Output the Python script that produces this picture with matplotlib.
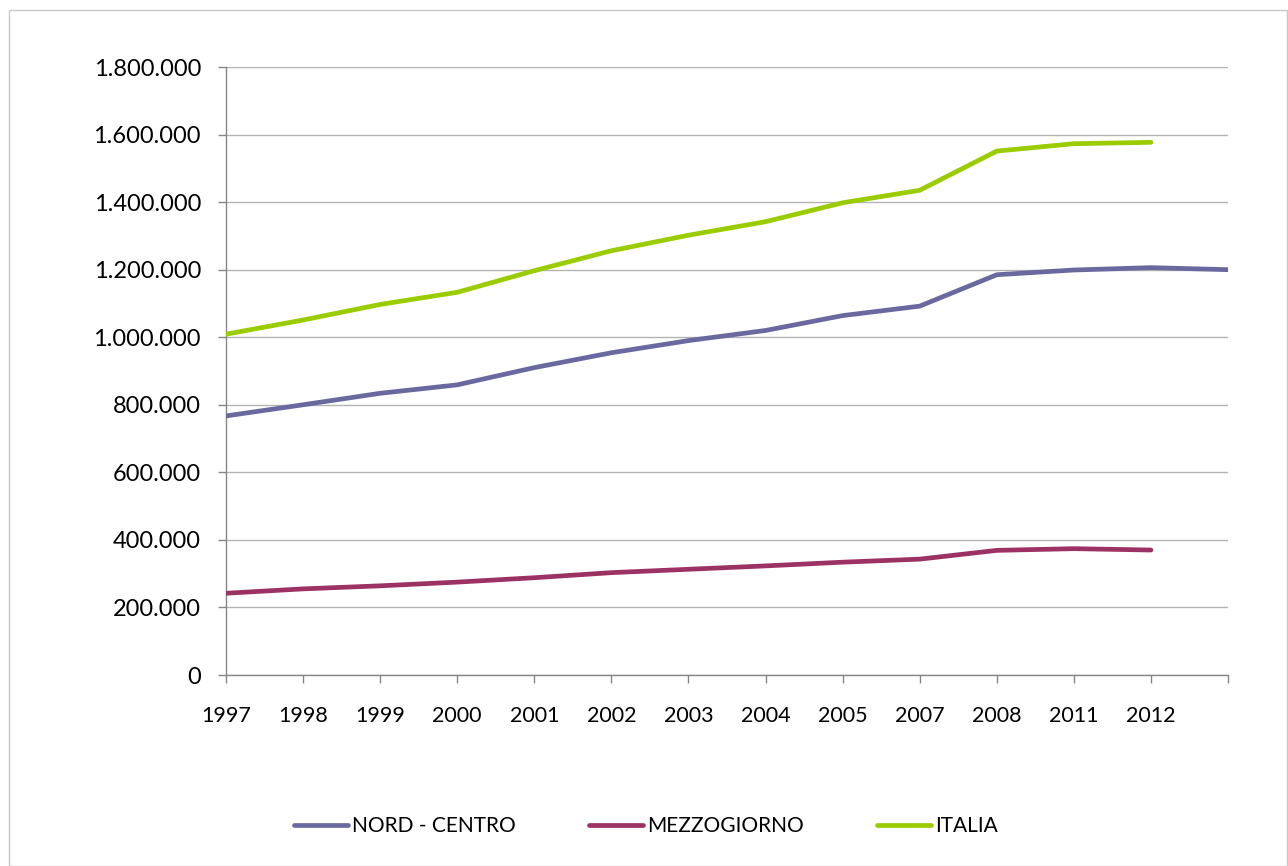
import matplotlib
matplotlib.use("Agg")
import matplotlib.pyplot as plt
from matplotlib.patches import Rectangle
from matplotlib.ticker import FuncFormatter, FixedLocator

years = ["1997", "1998", "1999", "2000", "2001", "2002", "2003", "2004",
         "2005", "2007", "2008", "2011", "2012", ""]
nord_centro = [767000, 800000, 834000, 859000, 910000, 954000, 990000, 1020000,
               1064000, 1092000, 1185000, 1199000, 1206000, 1200000]
mezzogiorno = [242000, 255000, 264000, 275000, 288000, 303000, 313000, 323000,
               334000, 343000, 369000, 374000, 370000]
italia = [1009000, 1051000, 1097000, 1133000, 1197000, 1256000, 1302000, 1342000,
          1398000, 1435000, 1551000, 1573000, 1577000]

names = ["NORD - CENTRO", "MEZZOGIORNO", "ITALIA"]
colors = ["#6A699F", "#9C3263", "#9ACC00"]

plt.rcParams['font.family'] = ['Lato', 'DejaVu Sans']
W, H = 1288, 866
fig = plt.figure(figsize=(W / 100, H / 100), dpi=100)
ax = fig.add_axes([226 / W, 1 - 675 / H, (1228 - 226) / W, (675 - 67) / H])

for vals, name, col in zip([nord_centro, mezzogiorno, italia], names, colors):
    ax.plot(range(len(vals)), vals, color=col, lw=3.4, label=name,
            solid_capstyle='round', solid_joinstyle='round', zorder=3)

ax.set_xlim(0, len(years) - 1)
ax.set_ylim(0, 1800000)
ax.yaxis.set_major_locator(FixedLocator(list(range(0, 1800001, 200000))))
ax.yaxis.set_major_formatter(FuncFormatter(lambda v, p: f"{int(v):,}".replace(",", ".")))
ax.set_xticks(range(len(years)))
ax.set_xticklabels(years)

ax.grid(axis='y', color='#B3B3B3', lw=1.0, zorder=0)
ax.grid(axis='x', visible=False)
for s in ['top', 'right']:
    ax.spines[s].set_visible(False)
for s in ['left', 'bottom']:
    ax.spines[s].set_color('#868686')
    ax.spines[s].set_linewidth(1.0)
ax.tick_params(axis='both', colors='#868686', labelcolor='black',
               length=6, width=1.0, direction='out')
ax.tick_params(axis='y', pad=12, labelsize=17)
ax.tick_params(axis='x', pad=16, labelsize=15.5)

leg = fig.legend(loc='center', bbox_to_anchor=(646 / W, 1 - 826 / H), ncol=3,
                 frameon=False, fontsize=15, handlelength=2.6, handletextpad=0.2,
                 columnspacing=3.5)

fig.patches.append(Rectangle((9 / W, 0), 1 - 9 / W - 1 / W, 1 - 10 / H, transform=fig.transFigure,
                             fill=False, edgecolor='#C8C8C8', lw=1.0))

fig.savefig("out.png", dpi=100)
